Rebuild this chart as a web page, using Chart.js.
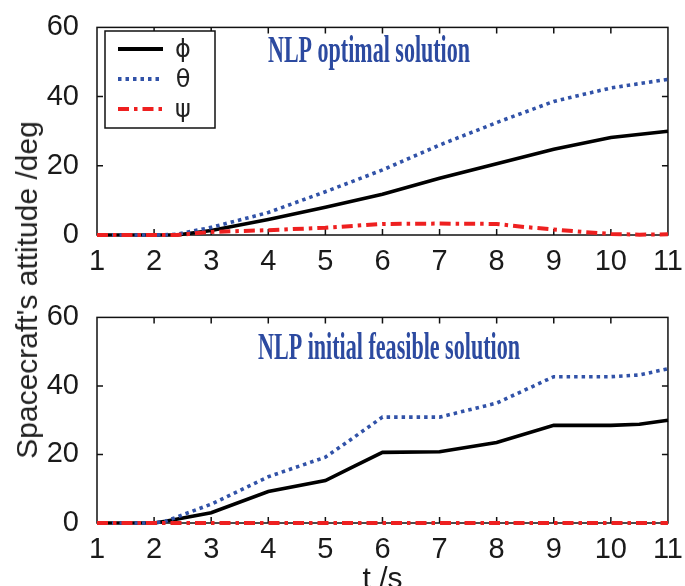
<!DOCTYPE html>
<html>
<head>
<meta charset="utf-8">
<script src="https://cdn.jsdelivr.net/npm/chart.js@4.4.0/dist/chart.umd.min.js"></script>
<style>
  body { margin: 0; background: #fff; }
  #wrap { position: relative; width: 685px; height: 586px; overflow: hidden; }
  canvas { position: absolute; left: 0; }
  #ylab {
    position: absolute; left: 27px; top: 290px;
    transform: translate(-50%, -50%) rotate(-90deg);
    font: 30px "Liberation Sans", Arial, sans-serif; color: #222; white-space: nowrap;
  }
</style>
</head>
<body>
<div id="wrap">
  <canvas id="top" width="685" height="290" style="top:0"></canvas>
  <canvas id="bottom" width="685" height="296" style="top:290px"></canvas>
  <div id="ylab">Spacecraft's attitude /deg</div>
</div>
<script>
// axes
const xTicks = [1, 2, 3, 4, 5, 6, 7, 8, 9, 10, 11];
const yTicks = [0, 20, 40, 60];

// NLP optimal solution
const tOpt = [1, 2, 2.4, 3, 4, 5, 6, 7, 8, 9, 10, 11];
const phiOpt = [0, 0, 0, 1.3, 4.5, 8, 11.8, 16.4, 20.6, 24.8, 28.2, 30];
const thetaOpt = [0, 0, 0.2, 2.2, 6.5, 12.5, 18.8, 26, 32.5, 38.6, 42.5, 45];
const tPsiOpt = [1, 2, 2.4, 3, 4, 5, 6, 7, 8, 8.5, 9, 9.5, 10, 10.5, 11];
const psiOpt = [0, 0, 0, 0.9, 1.4, 2.1, 3.2, 3.3, 3.2, 2.3, 1.6, 0.9, 0.3, 0.1, 0.2];

// NLP initial feasible solution
const tInit = [1, 2, 2.2, 3, 4, 5, 5.5, 6, 7, 8, 9, 10, 10.5, 11];
const phiInit = [0, 0, 0.5, 3, 9.2, 12.4, 16.5, 20.6, 20.8, 23.5, 28.5, 28.5, 28.8, 30];
const thetaInit = [0, 0, 0.5, 5.5, 13.5, 19.2, 25, 30.9, 30.9, 35, 42.7, 42.7, 43.2, 45];
const psiInit = [0, 0, 0, 0, 0, 0, 0, 0, 0, 0, 0, 0, 0, 0];

const names = ["\u03d5", "\u03b8", "\u03c8"];
const colors = ["#000000", "#3152a8", "#ee2020"];
const dashes = [[], [3.5, 4], [11, 5, 3.5, 5]];

const tickFont = { family: '"Liberation Sans", Arial, sans-serif', size: 29 };

function pts(t, v) {
  return t.map((x, i) => ({ x: x, y: v[i] }));
}

function makeDatasets(series) {
  return series.map((s, i) => ({
    label: names[i],
    data: s,
    borderColor: colors[i],
    borderWidth: i === 2 ? 4 : 3.6,
    borderDash: dashes[i],
    pointRadius: 0,
    tension: 0,
    fill: false,
    clip: false,
    order: 2 - i, // psi dessiné par-dessus
  }));
}

// cadre + petites graduations vers l'intérieur (style Matlab)
const framePlugin = {
  id: "frame",
  beforeDatasetsDraw(chart) {
    const { ctx, chartArea: a, scales } = chart;
    ctx.save();
    ctx.strokeStyle = "#111";
    ctx.lineWidth = 1.5;
    ctx.strokeRect(a.left, a.top, a.right - a.left, a.bottom - a.top);
    ctx.beginPath();
    xTicks.slice(1, -1).forEach((v) => {
      const x = scales.x.getPixelForValue(v);
      ctx.moveTo(x, a.bottom); ctx.lineTo(x, a.bottom - 6);
      ctx.moveTo(x, a.top); ctx.lineTo(x, a.top + 6);
    });
    yTicks.slice(1, -1).forEach((v) => {
      const y = scales.y.getPixelForValue(v);
      ctx.moveTo(a.left, y); ctx.lineTo(a.left + 6, y);
      ctx.moveTo(a.right, y); ctx.lineTo(a.right - 6, y);
    });
    ctx.stroke();
    ctx.restore();
  },
};

// titre dans la zone du graphique (+ légende pour le graphique du haut)
const innerTitle = {
  id: "innerTitle",
  afterDatasetsDraw(chart, args, opts) {
    const ctx = chart.ctx;
    ctx.save();
    ctx.font = "bold 38px 'Liberation Serif', 'Times New Roman', serif";
    ctx.fillStyle = "#2c4aa0";
    ctx.textBaseline = "middle";
    const w = ctx.measureText(opts.text).width;
    ctx.translate(opts.x, opts.y);
    ctx.scale(opts.width / w, 1);
    ctx.textAlign = "center";
    ctx.fillText(opts.text, 0, 0);
    ctx.restore();

    if (!opts.legend) return;
    ctx.save();
    ctx.fillStyle = "#fff";
    ctx.fillRect(105, 31, 110, 97);
    ctx.strokeStyle = "#111";
    ctx.lineWidth = 1.5;
    ctx.strokeRect(105, 31, 110, 97);
    const rows = [49, 79, 109];
    rows.forEach((y, i) => {
      ctx.beginPath();
      ctx.strokeStyle = colors[i];
      ctx.lineWidth = 3.8;
      ctx.setLineDash(dashes[i]);
      ctx.moveTo(118, y);
      ctx.lineTo(163, y);
      ctx.stroke();
      ctx.setLineDash([]);
      ctx.fillStyle = "#222";
      ctx.font = "24px 'DejaVu Sans', sans-serif";
      ctx.textAlign = "center";
      ctx.textBaseline = "middle";
      ctx.fillText(names[i], 183, y + 2);
    });
    ctx.restore();
  },
};

function makeChart(id, series, title, xHeight, padTop, showTitleX) {
  return new Chart(document.getElementById(id), {
    type: "line",
    data: { datasets: makeDatasets(series) },
    plugins: [framePlugin, innerTitle],
    options: {
      responsive: false,
      animation: false,
      layout: { padding: { top: padTop, right: 17, left: 0, bottom: 0 } },
      plugins: {
        legend: { display: false },
        tooltip: { enabled: false },
        innerTitle: title,
      },
      scales: {
        x: {
          type: "linear",
          min: 1,
          max: 11,
          afterFit: (s) => { s.height = xHeight; },
          afterBuildTicks: (s) => { s.ticks = xTicks.map((v) => ({ value: v })); },
          grid: { display: false },
          border: { display: false },
          ticks: { font: tickFont, color: "#1a1a1a", padding: 2, maxRotation: 0, autoSkip: false },
          title: {
            display: showTitleX,
            text: "t /s",
            font: { family: tickFont.family, size: 30 },
            color: "#1a1a1a",
            padding: { top: 0, bottom: -12 },
          },
        },
        y: {
          min: 0,
          max: 60,
          afterFit: (s) => { s.width = 97; },
          afterBuildTicks: (s) => { s.ticks = yTicks.map((v) => ({ value: v })); },
          grid: { display: false },
          border: { display: false },
          ticks: { font: tickFont, color: "#1a1a1a", padding: 10 },
        },
      },
    },
  });
}

makeChart(
  "top",
  [pts(tOpt, phiOpt), pts(tOpt, thetaOpt), pts(tPsiOpt, psiOpt)],
  { text: "NLP optimal solution", x: 369, y: 52, width: 202, legend: true },
  55, 25, false
);

makeChart(
  "bottom",
  [pts(tInit, phiInit), pts(tInit, thetaInit), pts(tInit, psiInit)],
  { text: "NLP initial feasible solution", x: 389, y: 59, width: 262, legend: false },
  63, 26, true
);
</script>
</body>
</html>
